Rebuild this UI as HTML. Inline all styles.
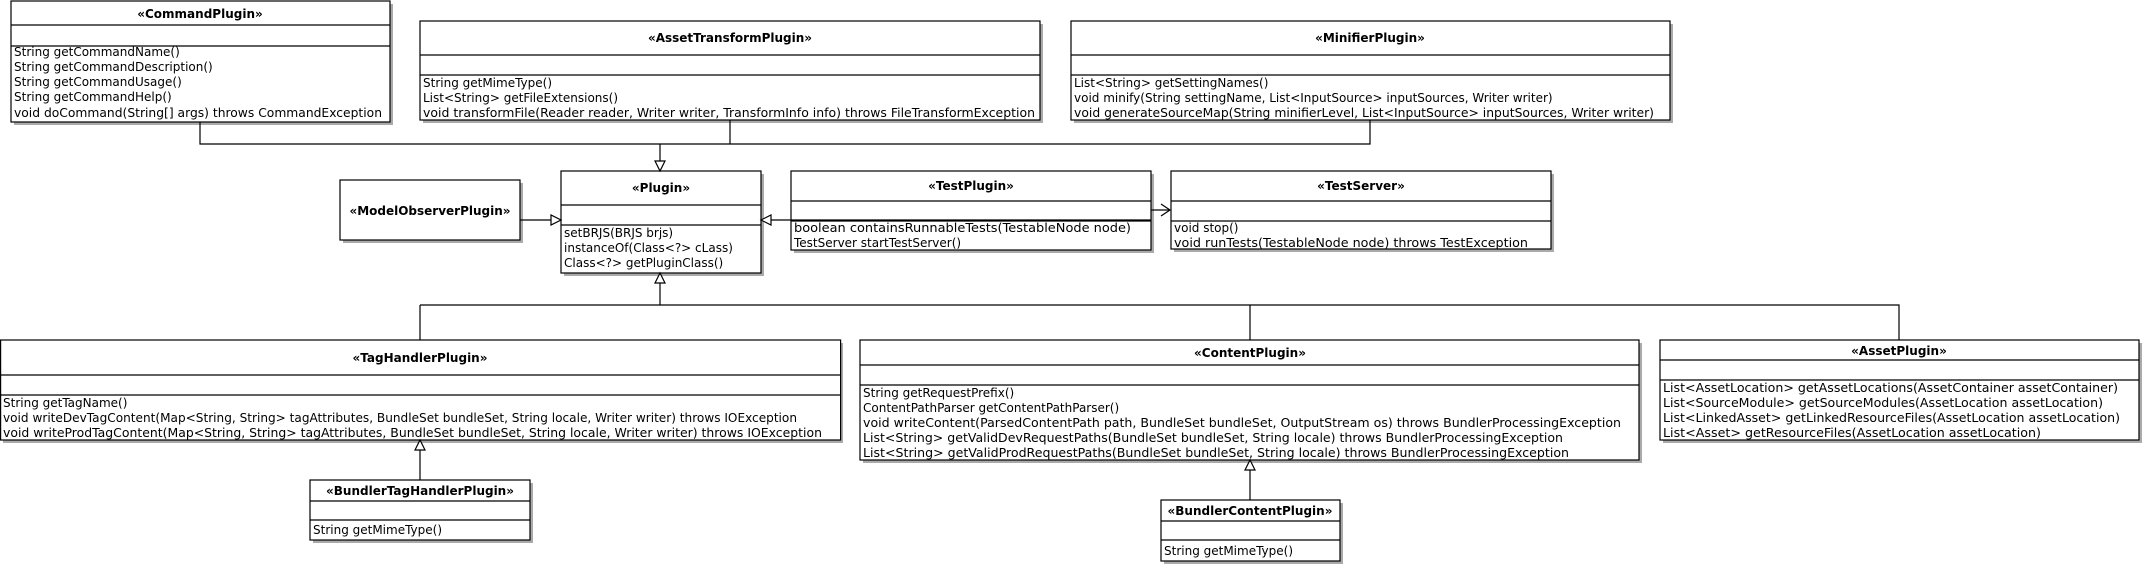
<!DOCTYPE html>
<html><head><meta charset="utf-8"><style>
html,body{margin:0;padding:0;background:#fff;}
svg{display:block;}
text{font-family:"DejaVu Sans","Liberation Sans",sans-serif;font-size:12px;fill:#000;}
.t{font-weight:bold;text-anchor:middle;}
</style></head><body>
<svg width="2145" height="565" viewBox="0 0 2145 565" xmlns="http://www.w3.org/2000/svg">
<g fill="#aaa">
<rect x="14" y="4" width="379" height="121"/>
<rect x="423" y="24" width="620" height="99"/>
<rect x="1074" y="24" width="599" height="99"/>
<rect x="343" y="183" width="180" height="60"/>
<rect x="564" y="174" width="200" height="102"/>
<rect x="794" y="174" width="360" height="79"/>
<rect x="1174" y="174" width="380" height="78"/>
<rect x="3" y="343" width="840" height="100"/>
<rect x="863" y="343" width="779" height="120"/>
<rect x="1663" y="343" width="479" height="100"/>
<rect x="313" y="483" width="220" height="60"/>
<rect x="1164" y="503" width="179" height="61"/>
</g>
<g fill="#fff" stroke="#000" stroke-width="1.2">
<rect x="11" y="1" width="379" height="121"/>
<rect x="420" y="21" width="620" height="99"/>
<rect x="1071" y="21" width="599" height="99"/>
<rect x="340" y="180" width="180" height="60"/>
<rect x="561" y="171" width="200" height="102"/>
<rect x="791" y="171" width="360" height="79"/>
<rect x="1171" y="171" width="380" height="78"/>
<rect x="0.6" y="340" width="840" height="100"/>
<rect x="860" y="340" width="779" height="120"/>
<rect x="1660" y="340" width="479" height="100"/>
<rect x="310" y="480" width="220" height="60"/>
<rect x="1161" y="500" width="179" height="61"/>
</g>
<g stroke="#000" stroke-width="1.2" fill="none">
<path d="M11 25H390M11 46H390"/>
<path d="M420 55H1040M420 75H1040"/>
<path d="M1071 55H1670M1071 75H1670"/>
<path d="M561 205H761M561 225H761"/>
<path d="M791 201H1151M791 221H1151"/>
<path d="M1171 201H1551M1171 221H1551"/>
<path d="M0 375H840M0 395H840"/>
<path d="M860 365H1639M860 385H1639"/>
<path d="M1660 360H2139M1660 380H2139"/>
<path d="M310 501H530M310 520H530"/>
<path d="M1161 521H1340M1161 540H1340"/>
<path d="M200 122V144H1370V120M730 120V144M660 144V161"/>
<path d="M520 220H551M1151 220H771"/>
<path d="M1151 210H1169"/>
<path d="M660 273V305M420 305H1899V340M420 305V340M1250 305V340"/>
<path d="M420 480V450M1250 500V470"/>
</g>
<g fill="#fff" stroke="#000" stroke-width="1.2">
<path d="M655 161H665L660 171Z"/>
<path d="M551 215V225L561 220Z"/>
<path d="M771 215V225L761 220Z"/>
<path d="M655 283H665L660 273Z"/>
<path d="M415 450H425L420 440Z"/>
<path d="M1245 470H1255L1250 460Z"/>
</g>
<path d="M1161 204L1170 210L1161 216" fill="none" stroke="#000" stroke-width="1.2"/>
<text class="t" x="200" y="18">«CommandPlugin»</text>
<text x="14" y="56">String getCommandName()</text>
<text x="14" y="71">String getCommandDescription()</text>
<text x="14" y="86">String getCommandUsage()</text>
<text x="14" y="101">String getCommandHelp()</text>
<text x="14" y="117" textLength="368" lengthAdjust="spacingAndGlyphs">void doCommand(String[] args) throws CommandException</text>
<text class="t" x="730" y="42">«AssetTransformPlugin»</text>
<text x="423" y="87">String getMimeType()</text>
<text x="423" y="102">List&lt;String&gt; getFileExtensions()</text>
<text x="423" y="117" textLength="612" lengthAdjust="spacingAndGlyphs">void transformFile(Reader reader, Writer writer, TransformInfo info) throws FileTransformException</text>
<text class="t" x="1370" y="42">«MinifierPlugin»</text>
<text x="1074" y="87">List&lt;String&gt; getSettingNames()</text>
<text x="1074" y="102">void minify(String settingName, List&lt;InputSource&gt; inputSources, Writer writer)</text>
<text x="1074" y="117" textLength="580" lengthAdjust="spacingAndGlyphs">void generateSourceMap(String minifierLevel, List&lt;InputSource&gt; inputSources, Writer writer)</text>
<text class="t" x="430" y="215">«ModelObserverPlugin»</text>
<text class="t" x="661" y="192">«Plugin»</text>
<text x="564" y="237">setBRJS(BRJS brjs)</text>
<text x="564" y="252">instanceOf(Class&lt;?&gt; cLass)</text>
<text x="564" y="267">Class&lt;?&gt; getPluginClass()</text>
<text class="t" x="971" y="190">«TestPlugin»</text>
<text x="794" y="232" textLength="337" lengthAdjust="spacingAndGlyphs">boolean containsRunnableTests(TestableNode node)</text>
<text x="794" y="247">TestServer startTestServer()</text>
<text class="t" x="1361" y="190">«TestServer»</text>
<text x="1174" y="232">void stop()</text>
<text x="1174" y="247" textLength="354" lengthAdjust="spacingAndGlyphs">void runTests(TestableNode node) throws TestException</text>
<text class="t" x="420" y="362">«TagHandlerPlugin»</text>
<text x="3" y="407">String getTagName()</text>
<text x="3" y="422" textLength="794" lengthAdjust="spacingAndGlyphs">void writeDevTagContent(Map&lt;String, String&gt; tagAttributes, BundleSet bundleSet, String locale, Writer writer) throws IOException</text>
<text x="3" y="437" textLength="819" lengthAdjust="spacingAndGlyphs">void writeProdTagContent(Map&lt;String, String&gt; tagAttributes, BundleSet bundleSet, String locale, Writer writer) throws IOException</text>
<text class="t" x="1250" y="357">«ContentPlugin»</text>
<text x="863" y="397">String getRequestPrefix()</text>
<text x="863" y="412">ContentPathParser getContentPathParser()</text>
<text x="863" y="427" textLength="758" lengthAdjust="spacingAndGlyphs">void writeContent(ParsedContentPath path, BundleSet bundleSet, OutputStream os) throws BundlerProcessingException</text>
<text x="863" y="442" textLength="700" lengthAdjust="spacingAndGlyphs">List&lt;String&gt; getValidDevRequestPaths(BundleSet bundleSet, String locale) throws BundlerProcessingException</text>
<text x="863" y="457" textLength="706" lengthAdjust="spacingAndGlyphs">List&lt;String&gt; getValidProdRequestPaths(BundleSet bundleSet, String locale) throws BundlerProcessingException</text>
<text class="t" x="1899" y="355">«AssetPlugin»</text>
<text x="1663" y="392" textLength="455" lengthAdjust="spacingAndGlyphs">List&lt;AssetLocation&gt; getAssetLocations(AssetContainer assetContainer)</text>
<text x="1663" y="407" textLength="440" lengthAdjust="spacingAndGlyphs">List&lt;SourceModule&gt; getSourceModules(AssetLocation assetLocation)</text>
<text x="1663" y="422" textLength="457" lengthAdjust="spacingAndGlyphs">List&lt;LinkedAsset&gt; getLinkedResourceFiles(AssetLocation assetLocation)</text>
<text x="1663" y="437" textLength="378" lengthAdjust="spacingAndGlyphs">List&lt;Asset&gt; getResourceFiles(AssetLocation assetLocation)</text>
<text class="t" x="420" y="495">«BundlerTagHandlerPlugin»</text>
<text x="313" y="534">String getMimeType()</text>
<text class="t" x="1250" y="515">«BundlerContentPlugin»</text>
<text x="1164" y="555">String getMimeType()</text>
</svg>
</body></html>
